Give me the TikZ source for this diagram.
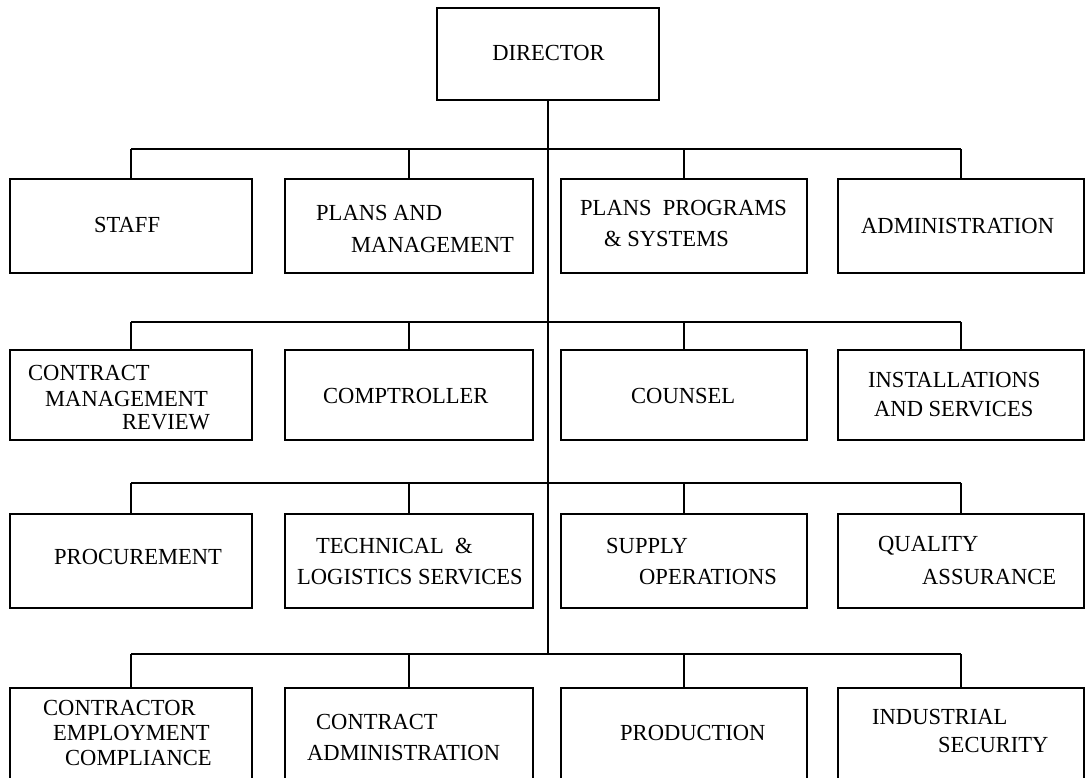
\documentclass[tikz,border=0pt]{standalone}
\usepackage{fontspec}
\setmainfont[FakeStretch=0.98]{Liberation Serif}
\begin{document}
\begin{tikzpicture}[x=1pt,y=-1pt,
        unit/.style={draw, line width=1.6pt, inner sep=0pt},
        lbl/.style={inner sep=0pt, anchor=west, font=\fontsize{23}{23}\selectfont},
        link/.style={line width=1.3pt}]
        \useasboundingbox (0,0) rectangle (1087,778);
        \clip (0,0) rectangle (1087,778);
        % Director box
        \node[unit, minimum width=222pt, minimum height=92pt] (dir) at (548,54) {};
        \node[lbl, anchor=center] (dirtext) at (548.5,53) {DIRECTOR};
        % Define the unit boxes, row by row
        \foreach \r/\y/\h in {1/226/94, 2/395/90, 3/561/94, 4/744/112} {
            \foreach \c/\x/\w in {1/131/242, 2/409/248, 3/684/246, 4/961/246} {
                \node[unit, minimum width=\w pt, minimum height=\h pt] (b\r\c) at (\x,\y) {};
            }
        }
        % Bus lines
        \foreach \r/\y in {1/149, 2/322, 3/483, 4/654} {
            \coordinate (bus\r) at (548,\y);
            \draw[link] (b\r1.north |- bus\r) -- (b\r4.north |- bus\r);
            \foreach \c in {1,...,4} {
                \draw[link] (b\r\c.north) -- (b\r\c.north |- bus\r);
            }
        }
        \draw[link] (dir.south) -- (bus4);
        % Labels
        \foreach \n/\x/\y/\t in {
            staff/94/225/STAFF,
            plans-a/316/213/PLANS AND, plans-b/351/245/MANAGEMENT,
            progs-a/580/208/PLANS\ \ PROGRAMS, progs-b/604/239/\& SYSTEMS,
            admin/861/226/ADMINISTRATION,
            review-a/28/373/CONTRACT, review-b/45/399/MANAGEMENT, review-c/122/422/REVIEW,
            comptr/323/396/COMPTROLLER,
            counsel/631/396/COUNSEL,
            instal-a/868/380/INSTALLATIONS, instal-b/874/409/AND SERVICES,
            procure/54/557/PROCUREMENT,
            techlog-a/316/546/TECHNICAL\ \ \&, techlog-b/297/577/LOGISTICS SERVICES,
            supply-a/606/546/SUPPLY, supply-b/639/577/OPERATIONS,
            quality-a/878/546/QUALITY, quality-b/922/577/ASSURANCE,
            employ-a/43/708/CONTRACTOR, employ-b/53/733/EMPLOYMENT, employ-c/65/758/COMPLIANCE,
            contadm-a/316/722/CONTRACT, contadm-b/307/753/ADMINISTRATION,
            product/620/733/PRODUCTION,
            security-a/872/717/INDUSTRIAL, security-b/938/745/SECURITY} {
            \node[lbl] (\n) at (\x,\y) {\t};
        }
\end{tikzpicture}
\end{document}
